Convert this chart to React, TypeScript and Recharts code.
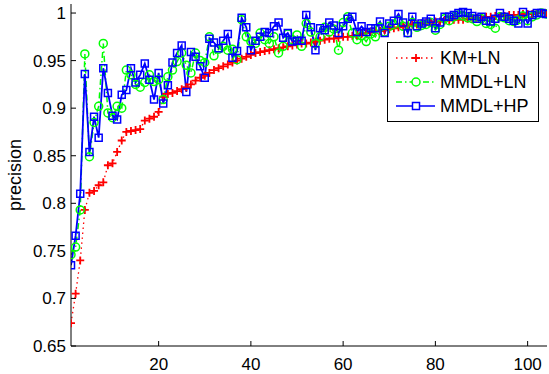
/*
  precision 曲线对比图（Recharts）
  三条序列：KM+LN（红色点线 + 十字）、MMDL+LN（绿色点划线 + 圆圈）、MMDL+HP（蓝色实线 + 方块）
  样式仿 MATLAB：四边边框、刻度朝内、图例框在右上角
*/

import { Line, LineChart, XAxis, YAxis } from 'recharts'

const W = 549
const H = 374

// x 轴刻度
const xTicks = [20, 40, 60, 80, 100]
// y 轴刻度
const yTicks = [0.65, 0.7, 0.75, 0.8, 0.85, 0.9, 0.95, 1]

// KM+LN
const kmLn = [
  0.674, 0.705, 0.740, 0.793, 0.811, 0.813, 0.819, 0.822, 0.840, 0.842,
  0.854, 0.866, 0.875, 0.876, 0.877, 0.878, 0.887, 0.889, 0.891, 0.896,
  0.912, 0.915, 0.916, 0.918, 0.920, 0.922, 0.925, 0.929, 0.932, 0.934,
  0.937, 0.940, 0.942, 0.944, 0.946, 0.948, 0.950, 0.952, 0.954, 0.956,
  0.958, 0.959, 0.960, 0.961, 0.962, 0.963, 0.964, 0.965, 0.966, 0.967,
  0.968, 0.968, 0.969, 0.970, 0.971, 0.972, 0.973, 0.973, 0.974, 0.975,
  0.975, 0.976, 0.977, 0.978, 0.979, 0.980, 0.981, 0.981, 0.982, 0.983,
  0.984, 0.985, 0.986, 0.987, 0.988, 0.988, 0.989, 0.990, 0.990, 0.991,
  0.991, 0.992, 0.992, 0.993, 0.993, 0.993, 0.994, 0.994, 0.995, 0.995,
  0.996, 0.996, 0.997, 0.997, 0.997, 0.998, 0.998, 0.998, 0.999, 0.999,
  0.999, 1.000, 1.000, 1.000,
]

// MMDL+LN
const mmdlLn = [
  0.746, 0.754, 0.793, 0.957, 0.849, 0.885, 0.902, 0.968, 0.895, 0.890,
  0.902, 0.900, 0.940, 0.935, 0.925, 0.922, 0.927, 0.935, 0.928, 0.930,
  0.909, 0.933, 0.940, 0.949, 0.958, 0.945, 0.937, 0.958, 0.950, 0.948,
  0.975, 0.955, 0.962, 0.965, 0.961, 0.962, 0.951, 0.993, 0.975, 0.970,
  0.968, 0.979, 0.972, 0.968, 0.975, 0.958, 0.965, 0.978, 0.972, 0.977,
  0.965, 0.989, 0.980, 0.968, 0.975, 0.985, 0.980, 0.983, 0.961, 0.990,
  0.996, 0.979, 0.972, 0.976, 0.970, 0.978, 0.975, 0.985, 0.980, 0.986,
  0.988, 0.992, 0.986, 0.979, 0.990, 0.985, 0.987, 0.988, 0.990, 0.982,
  0.988, 0.994, 0.992, 0.996, 0.998, 0.997, 0.995, 0.994, 0.991, 0.994,
  0.989, 0.988, 0.984, 0.996, 0.995, 0.992, 0.991, 0.993, 0.997, 0.992,
  0.996, 0.998, 1.000, 0.999,
]

// MMDL+HP
const mmdlHp = [
  0.735, 0.766, 0.810, 0.936, 0.854, 0.891, 0.869, 0.942, 0.916, 0.892,
  0.888, 0.914, 0.919, 0.942, 0.927, 0.935, 0.947, 0.930, 0.909, 0.937,
  0.905, 0.924, 0.948, 0.958, 0.966, 0.917, 0.959, 0.954, 0.944, 0.932,
  0.973, 0.969, 0.963, 0.971, 0.978, 0.953, 0.960, 0.995, 0.985, 0.961,
  0.971, 0.975, 0.980, 0.979, 0.986, 0.990, 0.974, 0.979, 0.970, 0.971,
  0.971, 0.998, 0.985, 0.961, 0.984, 0.982, 0.990, 0.987, 0.979, 0.986,
  0.994, 0.996, 0.980, 0.986, 0.980, 0.984, 0.984, 0.991, 0.979, 0.989,
  0.992, 0.999, 0.990, 0.979, 0.996, 0.986, 0.989, 0.991, 0.994, 0.984,
  0.990, 0.996, 0.996, 0.998, 1.000, 1.001, 1.000, 0.997, 0.994, 0.996,
  0.992, 0.991, 0.994, 1.000, 0.996, 0.994, 0.992, 0.989, 1.001, 0.989,
  0.998, 1.000, 1.000, 0.999,
]

const rows = kmLn.map((v, i) => ({ x: i + 1, kmLn: v, mmdlLn: mmdlLn[i], mmdlHp: mmdlHp[i] }))

const RED = '#ff0000'
const GREEN = '#00ff00'
const BLUE = '#0000ff'
const FONT = '"Liberation Sans", Arial, Helvetica, sans-serif'

// 三种标记
function plusPath(cx: number, cy: number, r = 4) {
  return `M${cx - r},${cy}H${cx + r}M${cx},${cy - r}V${cy + r}`
}
function squarePath(cx: number, cy: number, r = 3.5) {
  return `M${cx - r},${cy - r}H${cx + r}V${cy + r}H${cx - r}Z`
}

const plusDot = (p: any) => (
  <path key={`p${p.index}`} d={plusPath(p.cx, p.cy)} stroke={RED} strokeWidth={1.8} fill="none" />
)
const circleDot = (p: any) => (
  <circle key={`c${p.index}`} cx={p.cx} cy={p.cy} r={4} stroke={GREEN} strokeWidth={1.5} fill="none" />
)
const squareDot = (p: any) => (
  <path key={`s${p.index}`} d={squarePath(p.cx, p.cy)} stroke={BLUE} strokeWidth={1.5} fill="none" />
)

const fmtY = (v: number) => String(Number(v.toFixed(2)))

// 图例框（覆盖在图上，位置照原图）
function LegendBox() {
  const items = [
    { name: 'KM+LN', color: RED, dash: '1.5 3.5', mark: 'plus' },
    { name: 'MMDL+LN', color: GREEN, dash: '6 3 1.5 3', mark: 'circle' },
    { name: 'MMDL+HP', color: BLUE, dash: undefined, mark: 'square' },
  ]
  return (
    <svg width={152} height={80} style={{ position: 'absolute', left: 387, top: 42 }}>
      <rect x={0.5} y={0.5} width={151} height={79} fill="#fff" stroke="#000" strokeWidth={1} />
      {items.map((it, i) => {
        const cy = 16 + i * 24
        return (
          <g key={it.name}>
            <line x1={9} x2={48} y1={cy} y2={cy} stroke={it.color} strokeWidth={1.5} strokeDasharray={it.dash} />
            {it.mark === 'plus' && <path d={plusPath(29, cy)} stroke={it.color} strokeWidth={1.8} fill="none" />}
            {it.mark === 'circle' && <circle cx={29} cy={cy} r={4} stroke={it.color} strokeWidth={1.5} fill="#fff" />}
            {it.mark === 'square' && <path d={squarePath(29, cy)} stroke={it.color} strokeWidth={1.5} fill="#fff" />}
            <text x={53} y={cy} dy="0.36em" fontFamily={FONT} fontSize={18} fill="#000">
              {it.name}
            </text>
          </g>
        )
      })}
    </svg>
  )
}

export default function App() {
  const axisProps = {
    stroke: '#000',
    tickLine: { stroke: '#000' },
    axisLine: { stroke: '#000' },
  }
  return (
    <div style={{ position: 'absolute', left: 0, top: 0, width: W, height: H, background: '#fff' }}>
      <LineChart width={W} height={H} data={rows} margin={{ top: 4, right: 2, bottom: 0, left: 0 }}>
        <XAxis
          dataKey="x"
          type="number"
          domain={[1, 104.2]}
          allowDataOverflow
          ticks={xTicks}
          height={28}
          tickSize={-5}
          tickMargin={17}
          tick={{ fontSize: 17, fontFamily: FONT, fill: '#000' }}
          {...axisProps}
        />
        {/* 上边框 + 朝内刻度 */}
        <XAxis
          xAxisId="top"
          orientation="top"
          dataKey="x"
          type="number"
          domain={[1, 104.2]}
          allowDataOverflow
          ticks={xTicks}
          height={0}
          tickSize={-5}
          tick={false}
          {...axisProps}
        />
        <YAxis
          type="number"
          domain={[0.65, 1.0095]}
          allowDataOverflow
          ticks={yTicks}
          width={71}
          tickSize={-5}
          tickMargin={10}
          tickFormatter={fmtY}
          tick={{ fontSize: 17, fontFamily: FONT, fill: '#000' }}
          label={{
            value: 'precision',
            angle: -90,
            position: 'insideLeft',
            offset: 15,
            style: { textAnchor: 'middle', fontSize: 18, fontFamily: FONT, fill: '#000' },
          }}
          {...axisProps}
        />
        {/* 右边框 */}
        <YAxis
          yAxisId="right"
          orientation="right"
          type="number"
          domain={[0.65, 1.0095]}
          allowDataOverflow
          ticks={yTicks}
          width={0}
          tickSize={-5}
          tick={false}
          {...axisProps}
        />
        <Line
          dataKey="kmLn"
          stroke={RED}
          strokeWidth={1.3}
          strokeDasharray="1.5 3.5"
          dot={plusDot}
          activeDot={false}
          isAnimationActive={false}
        />
        <Line
          dataKey="mmdlLn"
          stroke={GREEN}
          strokeWidth={1.5}
          strokeDasharray="6 3 1.5 3"
          dot={circleDot}
          activeDot={false}
          isAnimationActive={false}
        />
        <Line
          dataKey="mmdlHp"
          stroke={BLUE}
          strokeWidth={1.8}
          dot={squareDot}
          activeDot={false}
          isAnimationActive={false}
        />
      </LineChart>
      <LegendBox />
    </div>
  )
}
